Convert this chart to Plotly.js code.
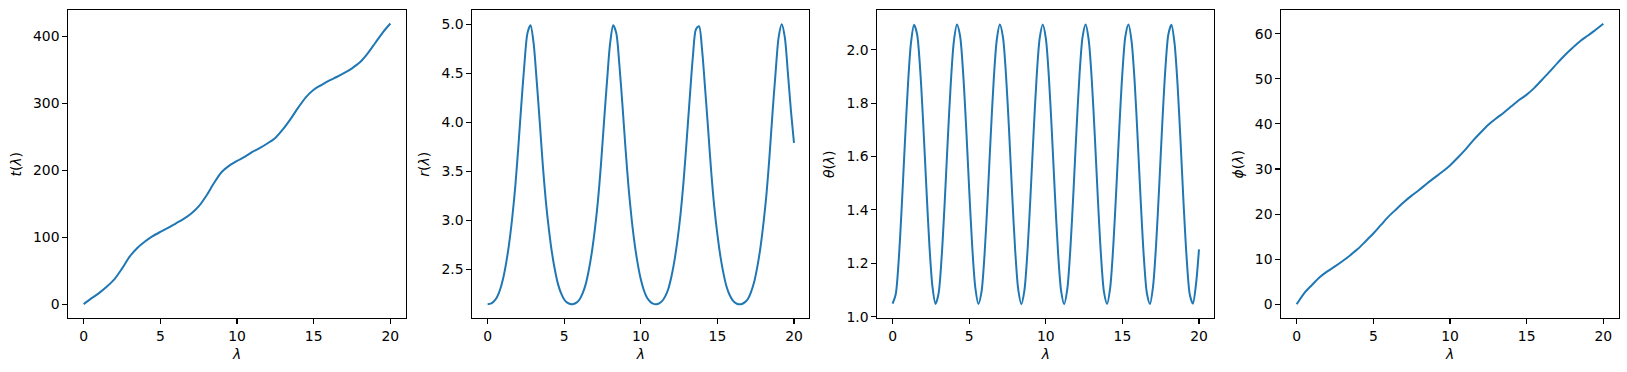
<!DOCTYPE html>
<html>
<head>
<meta charset="utf-8">
<script src="https://cdn.plot.ly/plotly-3.0.1.min.js"></script>
<style>
html,body{margin:0;padding:0;background:#fff;}
#chart{width:1627px;height:372px;}
</style>
</head>
<body>
<div id="chart"></div>
<script>
// Affine parameter grids
const lamFine = [0,0.2,0.4,0.6,0.8,1,1.2,1.4,1.6,1.8,2,2.2,2.4,2.6,2.8,3,3.2,3.4,3.6,3.8,4,4.2,4.4,4.6,4.8,5,5.2,5.4,5.6,5.8,6,6.2,6.4,6.6,6.8,7,7.2,7.4,7.6,7.8,8,8.2,8.4,8.6,8.8,9,9.2,9.4,9.6,9.8,10,10.2,10.4,10.6,10.8,11,11.2,11.4,11.6,11.8,12,12.2,12.4,12.6,12.8,13,13.2,13.4,13.6,13.8,14,14.2,14.4,14.6,14.8,15,15.2,15.4,15.6,15.8,16,16.2,16.4,16.6,16.8,17,17.2,17.4,17.6,17.8,18,18.2,18.4,18.6,18.8,19,19.2,19.4,19.6,19.8,20];
const lamCoarse = [0,0.5,1,1.5,2,2.5,3,3.5,4,4.5,5,5.5,6,6.5,7,7.5,8,8.5,9,9.5,10,10.5,11,11.5,12,12.5,13,13.5,14,14.5,15,15.5,16,16.5,17,17.5,18,18.5,19,19.5,20];

// t(λ)
const tVals = [0,8.5,16.5,26,37,53,71,84,93.5,101.5,108,114,120.5,127,135,146,162,181,197.5,207,214,220,227.5,233.5,240.5,248.5,261.5,277,294,309.5,320.5,327.5,334,339.5,345.5,352.5,361,374,390,406,419.5];

// r(λ)
const rVals = [2.143,2.149,2.171,2.212,2.286,2.398,2.556,2.758,3.016,3.336,3.738,4.18,4.59,4.91,4.99,4.81,4.43,4.01,3.57,3.196,2.908,2.67,2.488,2.346,2.254,2.192,2.160,2.145,2.145,2.160,2.192,2.254,2.346,2.488,2.67,2.908,3.196,3.57,4.01,4.43,4.81,4.99,4.91,4.59,4.18,3.738,3.336,3.016,2.758,2.556,2.398,2.286,2.212,2.171,2.149,2.143,2.152,2.177,2.226,2.302,2.426,2.592,2.806,3.072,3.412,3.826,4.26,4.67,4.95,4.98,4.74,4.34,3.92,3.49,3.132,2.856,2.63,2.456,2.322,2.238,2.184,2.155,2.143,2.146,2.165,2.20,2.27,2.37,2.52,2.71,2.96,3.26,3.65,4.10,4.51,4.87,5.00,4.87,4.51,4.12,3.79];

// θ(λ)
const thetaVals = [1.049,1.083,1.214,1.417,1.650,1.867,2.026,2.093,2.057,1.925,1.721,1.487,1.269,1.113,1.048,1.087,1.223,1.428,1.662,1.877,2.032,2.094,2.053,1.916,1.710,1.475,1.260,1.108,1.048,1.092,1.232,1.439,1.673,1.887,2.037,2.094,2.048,1.907,1.699,1.463,1.250,1.102,1.047,1.097,1.241,1.451,1.685,1.896,2.042,2.094,2.043,1.898,1.687,1.452,1.241,1.097,1.047,1.102,1.250,1.462,1.696,1.905,2.047,2.094,2.037,1.889,1.676,1.441,1.232,1.092,1.048,1.107,1.260,1.474,1.707,1.914,2.052,2.094,2.031,1.880,1.664,1.429,1.223,1.088,1.048,1.113,1.269,1.485,1.719,1.923,2.057,2.093,2.026,1.870,1.653,1.418,1.215,1.083,1.049,1.119,1.252];

// φ(λ)
const phiVals = [0,2.5,4.3,6.0,7.3,8.4,9.6,10.9,12.3,14.0,15.7,17.6,19.5,21.1,22.7,24.1,25.4,26.8,28.1,29.4,30.8,32.5,34.3,36.3,38.1,39.8,41.2,42.5,43.9,45.3,46.5,48.0,49.8,51.6,53.5,55.3,56.9,58.4,59.6,60.9,62.2];

const xTicks = [0,5,10,15,20];
const yTitles = ["<i>t</i>(<i>λ</i>)", "<i>r</i>(<i>λ</i>)", "<i>θ</i>(<i>λ</i>)", "<i>ϕ</i>(<i>λ</i>)"];
const yTickSets = [[0,100,200,300,400],[2.5,3.0,3.5,4.0,4.5,5.0],[1.0,1.2,1.4,1.6,1.8,2.0],[0,10,20,30,40,50,60]];
const yTickFormats = ["d",".1f",".1f","d"];
const yRanges = [[-21.2,439.2],[2.0,5.143],[0.994,2.1475],[-3.1,65.2]];

const W = 1627, H = 372;
const panelsPx = [[68.3,405.7],[472.3,809.3],[877.3,1214.3],[1281.3,1618.7]];
const yDom = [(H-318.3)/H, (H-10.3)/H];
const font = {family: "DejaVu Sans, sans-serif", size: 13.9, color: "#000"};
const lineStyle = {color: "#1f77b4", width: 2, shape: "spline", smoothing: 0.8};

const xs = [lamCoarse, lamFine, lamFine, lamCoarse];
const ys = [tVals, rVals, thetaVals, phiVals];

const data = [];
const layout = {
  width: W, height: H,
  margin: {l:0, r:0, t:0, b:0},
  paper_bgcolor: "#fff", plot_bgcolor: "#fff",
  showlegend: false,
  font: font
};

for (let i = 0; i < 4; i++) {
  const sfx = i === 0 ? "" : String(i+1);
  data.push({
    x: xs[i], y: ys[i], type: "scatter", mode: "lines",
    line: lineStyle, xaxis: "x"+sfx, yaxis: "y"+sfx, hoverinfo: "skip"
  });
  const common = {
    showgrid: false, zeroline: false, showline: true, mirror: true,
    linecolor: "#000", linewidth: 1.07,
    ticks: "outside", ticklen: 4.9, tickwidth: 1.07, tickcolor: "#000",
    tickfont: font
  };
  layout["xaxis"+sfx] = Object.assign({}, common, {
    domain: [panelsPx[i][0]/W, panelsPx[i][1]/W],
    anchor: "y"+sfx,
    range: [-1, 21],
    tickmode: "array", tickvals: xTicks,
    title: {text: "<i>λ</i>", font: font, standoff: 6}
  });
  layout["yaxis"+sfx] = Object.assign({}, common, {
    domain: yDom,
    anchor: "x"+sfx,
    range: yRanges[i],
    tickmode: "array", tickvals: yTickSets[i], tickformat: yTickFormats[i],
    title: {text: yTitles[i], font: font, standoff: 8}
  });
}

Plotly.newPlot("chart", data, layout, {staticPlot: true, displayModeBar: false});
</script>
</body>
</html>
